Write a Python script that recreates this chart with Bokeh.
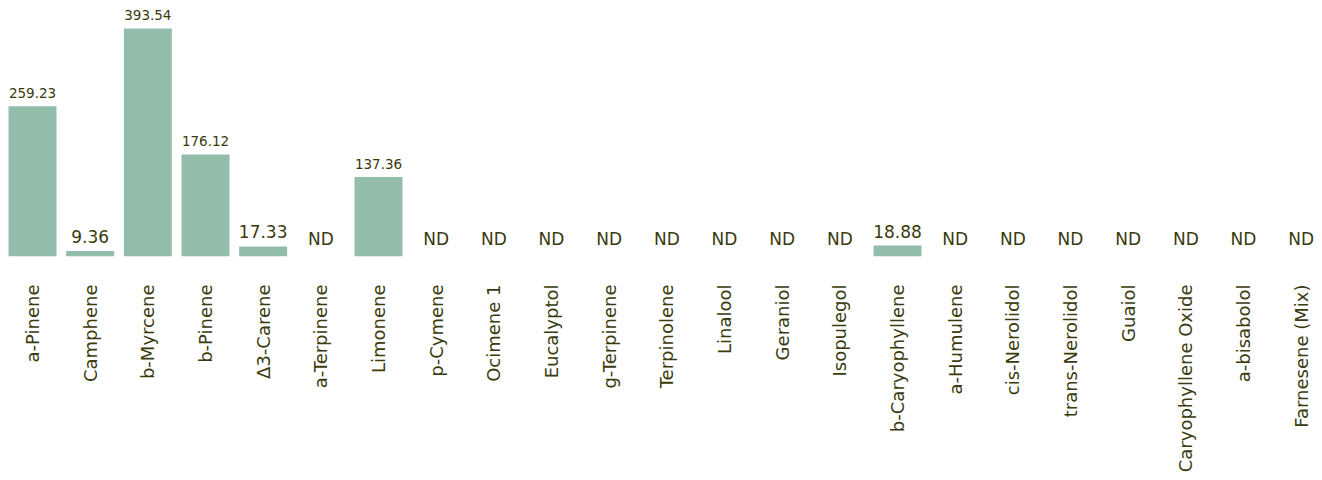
import math
from bokeh.plotting import figure
from bokeh.models import ColumnDataSource, Range1d, FixedTicker
from bokeh.core.properties import value
from bokeh.embed import file_html
from bokeh.resources import INLINE

categories = ["a-Pinene", "Camphene", "b-Myrcene", "b-Pinene", "Δ3-Carene", "a-Terpinene",
              "Limonene", "p-Cymene", "Ocimene 1", "Eucalyptol", "g-Terpinene", "Terpinolene",
              "Linalool", "Geraniol", "Isopulegol", "b-Caryophyllene", "a-Humulene",
              "cis-Nerolidol", "trans-Nerolidol", "Guaiol", "Caryophyllene Oxide",
              "a-bisabolol", "Farnesene (Mix)"]
values = [259.23, 9.36, 393.54, 176.12, 17.33, 0, 137.36, 0, 0, 0, 0, 0,
          0, 0, 0, 18.88, 0, 0, 0, 0, 0, 0, 0]
value_labels = ["259.23", "9.36", "393.54", "176.12", "17.33", "ND", "137.36", "ND", "ND",
                "ND", "ND", "ND", "ND", "ND", "ND", "18.88", "ND", "ND", "ND", "ND", "ND",
                "ND", "ND"]

BAR = "#93bdab"
TXT = "#3a3a0e"
FONT = "DejaVu Sans"

xs = list(range(len(categories)))
sizes = ["13.5px" if v >= 100 else "17px" for v in values]
src = ColumnDataSource(dict(x=xs, top=values, label=value_labels, size=sizes))

p = figure(width=1322, height=480, output_backend="svg", toolbar_location=None,
           x_range=Range1d(-0.555, 22.37), y_range=Range1d(0, 441.8),
           min_border_left=0, min_border_right=0, min_border_top=0, min_border_bottom=224)
p.outline_line_color = None
p.xgrid.visible = False
p.ygrid.visible = False
p.yaxis.visible = False
p.background_fill_color = "white"
p.border_fill_color = "white"

p.vbar(x="x", top="top", bottom=0, width=0.832, source=src, fill_color=BAR, line_color=None)
p.text(x="x", y="top", text="label", source=src, y_offset=-8, text_align="center",
       text_baseline="bottom", text_font=value(FONT), text_font_size="size",
       text_color=TXT)

ax = p.xaxis[0]
ax.ticker = FixedTicker(ticks=xs)
ax.major_label_overrides = {i: c for i, c in enumerate(categories)}
ax.major_label_orientation = math.pi / 2
ax.axis_line_color = None
ax.major_tick_line_color = None
ax.minor_tick_line_color = None
ax.major_tick_out = 0
ax.major_tick_in = 0
ax.major_label_standoff = 28
ax.major_label_text_font = FONT
ax.major_label_text_font_size = "18px"
ax.major_label_text_color = TXT

open("out.html", "w").write(file_html(p, INLINE))
